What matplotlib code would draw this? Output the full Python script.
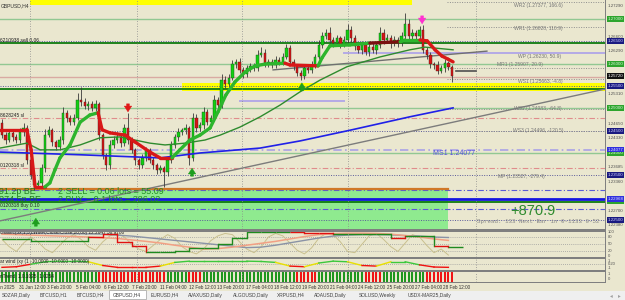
import numpy as np
import matplotlib
matplotlib.use("Agg")
import matplotlib.pyplot as plt
from matplotlib.collections import LineCollection
from matplotlib.patches import Rectangle

plt.rcParams['font.family'] = ['Liberation Sans', 'DejaVu Sans']

BG = '#EAE7CF'

# ---- GBPUSD H4 candles (opens follow the previous close) ----
first_open = 1.2467
closes = [1.2440, 1.2429, 1.2444, 1.2435, 1.2429, 1.2447, 1.2456, 1.2384, 1.2350, 1.2328,
          1.2332, 1.2366, 1.2440, 1.2451, 1.2424, 1.2413, 1.2429, 1.2490, 1.2478, 1.2469,
          1.2478, 1.2519, 1.2514, 1.2505, 1.2510, 1.2501, 1.2510, 1.2440, 1.2395, 1.2373,
          1.2418, 1.2429, 1.2435, 1.2422, 1.2456, 1.2429, 1.2407, 1.2384, 1.2373, 1.2389,
          1.2407, 1.2384, 1.2373, 1.2362, 1.2366, 1.2357, 1.2384, 1.2418, 1.2435, 1.2447,
          1.2451, 1.2456, 1.2389, 1.2478, 1.2456, 1.2462, 1.2492, 1.2469, 1.2478, 1.2519,
          1.2507, 1.2563, 1.2554, 1.2568, 1.2599, 1.2604, 1.2586, 1.2577, 1.2590, 1.2595,
          1.2590, 1.2619, 1.2624, 1.2601, 1.2604, 1.2597, 1.2608, 1.2604, 1.2615, 1.2635,
          1.2604, 1.2595, 1.2579, 1.2572, 1.2590, 1.2586, 1.2597, 1.2615, 1.2642, 1.2662,
          1.2669, 1.2653, 1.2646, 1.2657, 1.2644, 1.2653, 1.2675, 1.2657, 1.2639, 1.2631,
          1.2642, 1.2626, 1.2637, 1.2631, 1.2642, 1.2669, 1.2653, 1.2657, 1.2646, 1.2653,
          1.2646, 1.2662, 1.2689, 1.2662, 1.2669, 1.2662, 1.2675, 1.2631, 1.2619, 1.2599,
          1.2597, 1.2584, 1.2590, 1.2601, 1.2593, 1.2572]
upper_wick_pips = [8, 6, 10, 5, 7, 9, 12, 6, 5, 4,
                   8, 10, 14, 9, 6, 5, 8, 12, 7, 6,
                   9, 15, 29, 8, 7, 6, 9, 5, 4, 6,
                   10, 8, 12, 7, 9, 34, 6, 5, 4, 8,
                   7, 5, 6, 4, 7, 5, 8, 9, 7, 10,
                   6, 8, 5, 12, 9, 7, 10, 6, 8, 11,
                   7, 13, 9, 8, 10, 6, 9, 7, 8, 6,
                   7, 11, 14, 8, 6, 7, 9, 6, 8, 10,
                   7, 6, 5, 6, 8, 7, 9, 6, 10, 8,
                   9, 12, 7, 8, 6, 9, 14, 10, 7, 6,
                   8, 7, 6, 9, 7, 12, 8, 10, 7, 9,
                   6, 8, 25, 10, 8, 7, 9, 12, 7, 6,
                   5, 8, 7, 9, 6, 5]
lower_wick_pips = [6, 9, 5, 8, 7, 6, 10, 8, 9, 12,
                   7, 6, 8, 5, 9, 7, 6, 10, 8, 7,
                   6, 5, 8, 7, 9, 6, 8, 10, 9, 12,
                   8, 6, 7, 9, 6, 8, 7, 10, 9, 6,
                   8, 7, 9, 10, 6, 34, 8, 6, 7, 9,
                   6, 8, 15, 7, 9, 6, 8, 7, 10, 6,
                   8, 7, 9, 6, 5, 8, 7, 9, 6, 8,
                   7, 6, 5, 8, 9, 7, 6, 8, 7, 5,
                   8, 9, 7, 9, 6, 8, 7, 6, 5, 8,
                   6, 7, 9, 6, 8, 7, 6, 8, 9, 7,
                   10, 6, 8, 7, 9, 6, 8, 7, 10, 6,
                   8, 7, 6, 9, 7, 8, 6, 7, 9, 8,
                   10, 7, 6, 8, 7, 13]

# ---- overlay lines ----
trend_bars = [-0.5, 6.9, 8.1, 9.2, 11.9, 13.3, 14.7, 16.1, 18.9, 21.7, 24.4, 26.7, 27.8, 30.0,
              34.2, 36.9, 41.1, 43.9, 47.2, 49.4, 52.2, 55.0, 57.8, 60.0, 62.2, 64.7, 67.5,
              70.3, 73.1, 78.6, 80.0, 87.8, 88.9, 91.1, 96.7, 102.2, 110.6, 111.9, 116.1,
              118.1, 120.3, 122.2, 123.9, 125.3]
trend_vals = [1.2452, 1.2452, 1.2407, 1.2324, 1.2324, 1.2333, 1.2362, 1.2389, 1.2418, 1.2469,
              1.2485, 1.2490, 1.2452, 1.2445, 1.2440, 1.2425, 1.2402, 1.2389, 1.2389, 1.2407,
              1.2429, 1.2440, 1.2456, 1.2492, 1.2530, 1.2559, 1.2581, 1.2595, 1.2599, 1.2601,
              1.2597, 1.2595, 1.2613, 1.2640, 1.2642, 1.2646, 1.2649, 1.2653, 1.2653, 1.2651,
              1.2631, 1.2617, 1.2610, 1.2604]
trend_cols = "rrrrgggggggrrrrrrrgggggggggggrrggggdggrrrrr"

ema_bars = [-0.6, 6.9, 10.6, 16.1, 21.7, 27.2, 32.8, 36.9, 41.1, 45.3, 50.8, 56.4, 60.6,
            66.1, 71.7, 77.2, 82.8, 88.3, 95.8, 105.0, 113.3, 117.5, 125.3]
ema_vals = [1.2411, 1.2422, 1.2407, 1.2407, 1.2418, 1.2434, 1.2436, 1.2429, 1.2422, 1.2418,
            1.2422, 1.2429, 1.2440, 1.2458, 1.2481, 1.2507, 1.2537, 1.2563, 1.2593, 1.2615,
            1.2631, 1.2637, 1.2631]
sma_bars = [-0.6, 21.7, 43.9, 55.0, 71.7, 82.8, 96.7, 113.3, 125.3]
sma_vals = [1.2402, 1.2396, 1.2389, 1.2400, 1.2411, 1.2427, 1.2451, 1.2481, 1.2501]

support_bars = [-0.55, 167.5]
support_prices = [1.2248, 1.2543]
resist_bars = [75.3, 134.7]
resist_prices = [1.2586, 1.2628]

# ---- horizontal levels ----
round_levels = [1.27000, 1.26000, 1.25000, 1.24000]
ladder_levels = [1.26500, 1.25500, 1.24500, 1.23500, 1.22500]
order_levels = [1.2646, 1.2543, 1.2291]
sl_levels = [1.2478, 1.2366]
buy_levels = [1.2317, 1.2275]
blue_level = 1.2297
bid_level = 1.2570
be_level = 1.2320
ms1_level = 1.24077
top_band = (1.27313, 1.27414)
mid_band = (1.25377, 1.25556)

pivot_names = ["WR2", "WR1", "WP", "MR1", "WS1", "WS2", "WS3", "MP"]
pivot_prices = [1.27377, 1.26828, 1.26230, 1.25907, 1.25663, 1.24983, 1.24496, 1.23527]
pivot_pips = [166.6, 110.9, 50.9, 20.9, -4.8, -64.8, -120.5, -279.4]

up_arrow_bars = [9.4, 52.8, 83.3]
up_arrow_prices = [1.2245, 1.2357, 1.2548]
sell_arrow_bars = [35.0, 116.7]
sell_arrow_prices = [1.2501, 1.2698]

# ---- indicator windows ----
osc_step = 4
salmon_vals = [92, 90, 88, 86, 84, 82, 80, 77, 74, 68, 62, 55, 46, 38, 30, 32, 38, 46, 54, 62,
               72, 82, 90, 94, 96, 96, 95, 92, 86, 80, 72, 66]
gray_vals = [96, 96, 95, 95, 94, 94, 93, 92, 88, 84, 78, 72, 66, 60, 54, 48, 42, 36, 38, 46,
             56, 66, 76, 84, 88, 90, 90, 89, 86, 84, 80, 78]
step_vals = [72, 72, 64, 64, 64, 64, 80, 92, 60, 44, 16, 16, 24, 36, 36, 52, 76, 100, 100, 100,
             100, 98, 96, 92, 92, 92, 92, 76, 84, 84, 44, 40]
step_cols = "ggggggrrrrggggggggggrrrggggrggrg"
khaki_vals = [70, 40, 20, 55, 80, 60, 30, 15, 45, 75,
              90, 70, 40, 25, 60, 85, 95, 80, 50, 30,
              20, 45, 70, 90, 75, 40, 20, 10, 30, 65,
              85, 95, 90, 60, 30, 15, 40, 80, 95, 85,
              55, 25, 10, 35, 75, 95, 90, 60, 20, 15,
              50, 85, 95, 70, 40, 20, 55, 90, 80, 45,
              15, 30, 5]
wave_vals = [0.0, 0.1, 0.5, 0.9, 1.0, 1.0, 0.9, 0.3, 0.0, 0.0, 0.0, 0.2, 0.8, 1.0, 1.0, 1.0,
             1.0, 1.0, 0.95, 0.8, 0.2, 0.1, 0.7, 1.0, 0.9, 0.3, 0.2, 0.9, 0.9, 0.4, 0.05, 0.0]
trend_runs = [("g", 27), ("r", 19), ("g", 6), ("r", 4), ("g", 26), ("r", 6), ("g", 13),
              ("r", 5), ("g", 12), ("r", 8)]

grid_bars = [7.8, 37.5, 66.7, 96.1, 131.7]
time_labels = ["30 Jan 2025", "31 Jan 12:00", "3 Feb 20:00", "5 Feb 04:00", "6 Feb 12:00",
               "7 Feb 20:00", "11 Feb 04:00", "12 Feb 12:00", "13 Feb 20:00", "17 Feb 04:00",
               "18 Feb 12:00", "19 Feb 20:00", "21 Feb 04:00", "24 Feb 12:00", "25 Feb 20:00",
               "27 Feb 04:00", "28 Feb 12:00"]
time_pos = [-3.6, 4.7, 12.5, 20.6, 28.3, 36.1, 43.9, 51.9, 59.7, 67.8, 75.6, 83.3, 91.1,
            98.9, 106.9, 114.7, 122.5]
tabs = ["SDZAR,Daily", "BTCUSD,H1", "BTCUSD,H4", "GBPUSD,H4", "EURUSD,H4", "AVAXUSD,Daily",
        "ALGOUSD,Daily", "XRPUSD,H4", "ADAUSD,Daily", "SOLUSD,Weekly", "USDX-MAR25,Daily"]
tab_edges = [-3, 35, 72, 108, 146, 183, 228, 273, 308, 353, 402, 457]

plain_ticks = [1.27290, 1.26600, 1.26290, 1.25310, 1.24650, 1.24330, 1.23685, 1.23360,
               1.22700, 1.22380]
green_tags = [1.27000, 1.26000, 1.25000, 1.24000, 1.22914]
navy_tags = [1.26500, 1.25500, 1.24500, 1.23500, 1.22500]
blue_tags = [1.24077, 1.22968]

# ---------------------------------------------------------------
W, H = 625, 300
XMIN, XMAX = -0.55, 167.5
fig = plt.figure(figsize=(6.25, 3.0), dpi=100)
fig.patch.set_facecolor(BG)


def frac(x0, y0, x1, y1):
    return [x0 / W, 1 - y1 / H, (x1 - x0) / W, (y1 - y0) / H]


def rect_px(x0, y0, x1, y1, color, z=5, **kw):
    fig.add_artist(Rectangle((x0 / W, 1 - y1 / H), (x1 - x0) / W, (y1 - y0) / H,
                             transform=fig.transFigure, facecolor=color, zorder=z, **kw))


ax = fig.add_axes(frac(0, 0, 605, 229))
ax.set_xlim(XMIN, XMAX)
ax.set_ylim(1.22298, 1.27425)
ax.set_axis_off()

# bands and levels
ax.fill_between([7.8, 114], *top_band, color='#FFFF00', lw=0, zorder=1)
ax.fill_between([50, XMAX], *mid_band, color='#FFFF00', lw=0, zorder=1)
ax.fill_between([XMIN, 124], 1.22298, be_level, color='#8FEA8F', lw=0, zorder=1)
for lv in round_levels:
    ax.axhline(lv, color='#92C892', lw=1, zorder=2)
for lv in ladder_levels:
    ax.axhline(lv, color='#5A5A9A', lw=0.7, ls=(0, (1, 1.5)), zorder=2)
for lv in order_levels:
    ax.axhline(lv, color='#0E7A0E', lw=1.3, zorder=2)
for lv in sl_levels:
    ax.axhline(lv, color='#E08C8C', lw=0.8, ls=(0, (5, 2, 1, 2)), zorder=2)
for lv in buy_levels:
    ax.axhline(lv, color='#5A5AD6', lw=0.8, ls=(0, (5, 2, 1, 2)), zorder=2)
ax.axhline(ms1_level, color='#A8A2E6', lw=1.2, ls=(0, (5, 2, 1, 2)), zorder=2)
ax.axhline(blue_level, color='#1414E0', lw=2, zorder=3)
ax.axhline(bid_level, color='#D9AAA2', lw=1, zorder=2)
ax.plot([XMIN, 124], [be_level, be_level], color='#D07828', lw=1.6, zorder=3)
ax.plot([95, XMAX], [pivot_prices[2]] * 2, color='#B4AAE6', lw=1.4, zorder=2)
ax.plot([66, 95], [1.2516, 1.2516], color='#B4AAE6', lw=1.4, zorder=2)
for name, pv in zip(pivot_names, pivot_prices):
    if name not in ("WP", "MP"):
        ax.plot([123.6, XMAX], [pv, pv], color='#8E8E8E', lw=0.7, ls=(0, (1, 1.5)), zorder=2)
ax.plot([126.1, 131.7], [1.25835, 1.25835], color='#505050', lw=1.2, zorder=3)
for gb in grid_bars:
    ax.axvline(gb, color='#8C8C8C', lw=0.6, ls=(0, (1, 2)), zorder=2)

ax.plot(support_bars, support_prices, color='#7C7C7C', lw=1, zorder=3)
ax.plot(resist_bars, resist_prices, color='#707070', lw=1, zorder=3)

# candles
c = np.array(closes)
o = np.r_[first_open, c[:-1]]
idx = np.arange(len(c))
hi = np.maximum(o, c) + np.array(upper_wick_pips) * 1e-4
lo = np.minimum(o, c) - np.array(lower_wick_pips) * 1e-4
ax.vlines(idx, lo, hi, color='#3A3A3A', lw=0.6, zorder=5)
body = np.maximum(np.abs(c - o), 0.00008)
up = c >= o
ax.bar(idx[up], body[up], bottom=np.minimum(o, c)[up], width=0.62, color='#12D012',
       edgecolor='#1E4A1E', lw=0.3, zorder=6)
ax.bar(idx[~up], body[~up], bottom=np.minimum(o, c)[~up], width=0.62, color='#D81414',
       edgecolor='#4A1E1E', lw=0.3, zorder=6)

# moving averages
ax.plot(sma_bars, sma_vals, color='#2020E8', lw=1.2, zorder=7)
ax.plot(ema_bars, ema_vals, color='#2E8B2E', lw=1, zorder=7)
cmap = {'g': '#2DB52D', 'r': '#D81818', 'd': '#7A1010'}
pts = np.column_stack([trend_bars, trend_vals])
segs = np.stack([pts[:-1], pts[1:]], axis=1)
ax.add_collection(LineCollection(segs, colors=[cmap[k] for k in trend_cols], lw=2.4,
                                 capstyle='round', zorder=8))


# arrows
def arrow(x, y, up_dir, color):
    d = 0.0009
    y0, y1 = (y - d, y + d) if up_dir else (y + d, y - d)
    ax.annotate('', xy=(x, y1), xytext=(x, y0), zorder=9,
                arrowprops=dict(arrowstyle='simple,head_length=0.7,head_width=0.9,tail_width=0.35',
                                fc=color, ec=color, lw=0.3, shrinkA=0, shrinkB=0,
                                mutation_scale=6))


for x, y in zip(up_arrow_bars, up_arrow_prices):
    arrow(x, y, True, '#1E9E1E')
arrow(sell_arrow_bars[0], sell_arrow_prices[0], False, '#E01818')
arrow(sell_arrow_bars[1], sell_arrow_prices[1], False, '#FF30D0')

# texts on main chart
ax.text(0.002, 0.985, "GBPUSD,H4", transform=ax.transAxes, fontsize=3.6, color='#303030',
        va='top', ha='left')
ax.text(XMIN + 0.1, order_levels[0] + 0.0001, "6210938 sell 0.06", fontsize=3.5, color='#202020', va='bottom')
ax.text(XMIN + 0.1, sl_levels[0] + 0.0001, "8628245 sl", fontsize=3.5, color='#202020', va='bottom')
ax.text(XMIN + 0.1, sl_levels[1] + 0.0001, "0120318 sl", fontsize=3.5, color='#202020', va='bottom')
ax.text(XMIN + 0.1, buy_levels[1] + 0.0001, "0120318 buy 0.10", fontsize=3.5, color='#202020', va='bottom')
ax.text(-1.6, 1.2313, "-91.2p BE", fontsize=6.4, color='#1F7A1F', va='center', zorder=10)
ax.text(-2.2, 1.2296, "+274.5p BE", fontsize=6.4, color='#1F7A1F', va='center', zorder=10)
ax.text(15.6, 1.2313, "2 SELL = 0.06 lots = 55.09", fontsize=6.4, color='#238B23', va='center',
        zorder=10)
ax.text(15.6, 1.2296, "2 BUY = 0.1 lots = 286.02", fontsize=6.4, color='#238B23', va='center',
        zorder=10)
ax.text(141.1, 1.2270, "+870.9", fontsize=10.5, color='#2E8B2E', va='center', zorder=10)
ax.text(131.9, 1.22477, "Spread: 133 Next Bar in 0-1133 0-52", fontsize=4.2,
        family='Liberation Mono', color='#8A8A8A', va='center', zorder=10)
ax.annotate("MS1 1.24077", xy=(125.6, ms1_level), xytext=(0, -2.5), textcoords='offset points',
            fontsize=5, color='#5050DD', ha='center', va='center')
pivot_dx = [148.9, 148.9, 149.4, 143.9, 149.4, 148.9, 148.9, 144.2]
pivot_dy = [3, 2.3, 3.6, -3.8, 2.3, -1, 0, 2]
for name, pv, pp, bx, dy in zip(pivot_names, pivot_prices, pivot_pips, pivot_dx, pivot_dy):
    ax.annotate(f"{name} ({pv:.5f}, {pp:.1f})", xy=(bx, pv), xytext=(0, -dy * 0.72),
                textcoords='offset points', fontsize=3.6, color='#777777',
                ha='center', va='center')

# price scale on the right
ytr = ax.get_yaxis_transform()
for t in plain_ticks:
    ax.text(1.004, t, f"{t:.5f}", transform=ytr, fontsize=3.2, color='#505050', va='center')
for t in green_tags:
    ax.text(1.004, t, f"{t:.5f}", transform=ytr, fontsize=3.2, color='#D8F5D8', va='center',
            bbox=dict(boxstyle='square,pad=0.2', fc='#2DA52D', ec='none'))
for t in navy_tags:
    ax.text(1.004, t, f"{t:.5f}", transform=ytr, fontsize=3.2, color='#D0D0FF', va='center',
            bbox=dict(boxstyle='square,pad=0.2', fc='#1A1A80', ec='none'))
for t in blue_tags:
    ax.text(1.004, t, f"{t:.5f}", transform=ytr, fontsize=3.2, color='#E0E0FF', va='center',
            bbox=dict(boxstyle='square,pad=0.2', fc='#3030DD', ec='none'))
ax.text(1.004, closes[-1], f"{closes[-1]:.5f}", transform=ytr, fontsize=3.2, color='white',
        va='center', bbox=dict(boxstyle='square,pad=0.2', fc='#111111', ec='none'))

# ---- indicator 1 ----
ax1 = fig.add_axes(frac(0, 231.5, 605, 257))
ax1.set_xlim(XMIN, XMAX)
ax1.set_ylim(-3, 103)
ax1.set_axis_off()
for lv in (80, 50, 20):
    ax1.axhline(lv, color='#9C9C9C', lw=0.6, ls=(0, (1, 1.5)))
xs = np.arange(len(salmon_vals)) * osc_step
ax1.plot(np.arange(len(khaki_vals)) * 2, khaki_vals, color='#C9C08E', lw=0.7)
ax1.plot(xs, gray_vals, color='#8A93A6', lw=1)
ax1.plot(xs, salmon_vals, color='#F2A084', lw=1.1)
for i, (v, k) in enumerate(zip(step_vals, step_cols)):
    col = '#1F8A1F' if k == 'g' else '#E01010'
    ax1.plot([xs[i], xs[i] + osc_step], [v, v], color=col, lw=1, solid_capstyle='butt')
    if i + 1 < len(step_vals):
        ax1.plot([xs[i] + osc_step] * 2, [v, step_vals[i + 1]], color=col, lw=1)
ax1.text(XMIN + 0.1, 97, "chastic(5x,1,3,LWMA,Close/Close,20,80) 22.2647 36.9780",
         fontsize=3.4, color='#202020', va='center')
for v, s in zip((100, 80, 50, 20, 0), ("100", "80", "50", "20", "0")):
    ax1.text(1.004, v, s, transform=ax1.get_yaxis_transform(), fontsize=3.0, color='#505050',
             va='center')

# ---- indicator 2 ----
ax2 = fig.add_axes(frac(0, 259, 605, 269.5))
ax2.set_xlim(XMIN, XMAX)
ax2.set_ylim(-0.35, 1.35)
ax2.set_axis_off()
ax2.axhline(0.5, color='#9C9C9C', lw=0.6, ls=(0, (1, 1.5)))
wx = np.arange(len(wave_vals)) * osc_step
for i in range(len(wave_vals) - 1):
    m = (wave_vals[i] + wave_vals[i + 1]) / 2
    col = '#3CC83C' if m >= 0.62 else ('#F01010' if m <= 0.38 else '#E8E000')
    ax2.plot(wx[i:i + 2], wave_vals[i:i + 2], color=col, lw=1)
ax2.text(XMIN + 0.1, 0.95, "ar wind (xy (1 -10.0000 -10.0000 -10.0000)", fontsize=3.4,
         color='#202020', va='center')
for v, s in zip((1.1, 0.5, -0.1), ("1", "0.20", "-1")):
    ax2.text(1.004, v, s, transform=ax2.get_yaxis_transform(), fontsize=3.0, color='#505050',
             va='center')

# ---- indicator 3 ----
ax3 = fig.add_axes(frac(0, 272, 605, 282))
ax3.set_xlim(XMIN, XMAX)
ax3.set_ylim(-0.05, 1.05)
ax3.set_axis_off()
bar_cols = []
for k, nrun in trend_runs:
    bar_cols += ['#1E961E' if k == 'g' else '#F01414'] * nrun
ax3.bar(np.arange(len(bar_cols)), 1, width=0.58, color=bar_cols)
ax3.text(XMIN + 0.1, 0.55, "nTrend  1.0.1025  1.0254", fontsize=3.4, color='#101010',
         va='center')
for v, s in zip((0.85, 0.3), ("1", "0")):
    ax3.text(1.004, v, s, transform=ax3.get_yaxis_transform(), fontsize=3.0, color='#505050',
             va='center')
for a in (ax1, ax2, ax3):
    for gb in grid_bars:
        a.axvline(gb, color='#8C8C8C', lw=0.6, ls=(0, (1, 2)))

# separators and frame
for y0, y1 in ((229, 231.5), (257, 259), (269.5, 271.8), (282, 283.3)):
    rect_px(0, y0, 605, y1, '#7F7F7F', z=10)
rect_px(604.5, 0, 605.6, 283.3, '#808080', z=10)

# time axis
axt = fig.add_axes(frac(0, 283.5, 605, 291))
axt.set_xlim(XMIN, XMAX)
axt.set_ylim(0, 1)
axt.set_axis_off()
for p, s in zip(time_pos, time_labels):
    axt.text(p, 0.45, s, fontsize=3.3, color='#303030', va='center', ha='left')

# tab bar
rect_px(0, 291, 625, 300, '#EFEFEF', z=10)
rect_px(0, 290.6, 625, 291.2, '#B4B4B4', z=11)
for i, name in enumerate(tabs):
    x0, x1 = tab_edges[i], tab_edges[i + 1]
    if name == "GBPUSD,H4":
        rect_px(x0 + 1, 290.2, x1 - 0.5, 299, 'white', z=12, edgecolor='#A0A0A0', lw=0.5)
    else:
        rect_px(x1 - 0.4, 292.5, x1 + 0.4, 298.5, '#B0B0B0', z=12)
    fig.text(((x0 + x1) / 2) / W, 1 - 295 / H, name, fontsize=3.5, color='#404040',
             ha='center', va='center', zorder=13)
fig.text(611 / W, 1 - 295.5 / H, "◂", fontsize=4, color='#A0A0A0', ha='center', va='center',
         family='DejaVu Sans', zorder=13)
fig.text(619 / W, 1 - 295.5 / H, "▸", fontsize=4, color='#A0A0A0', ha='center', va='center',
         family='DejaVu Sans', zorder=13)

fig.savefig("out.png", dpi=100, facecolor=BG)
